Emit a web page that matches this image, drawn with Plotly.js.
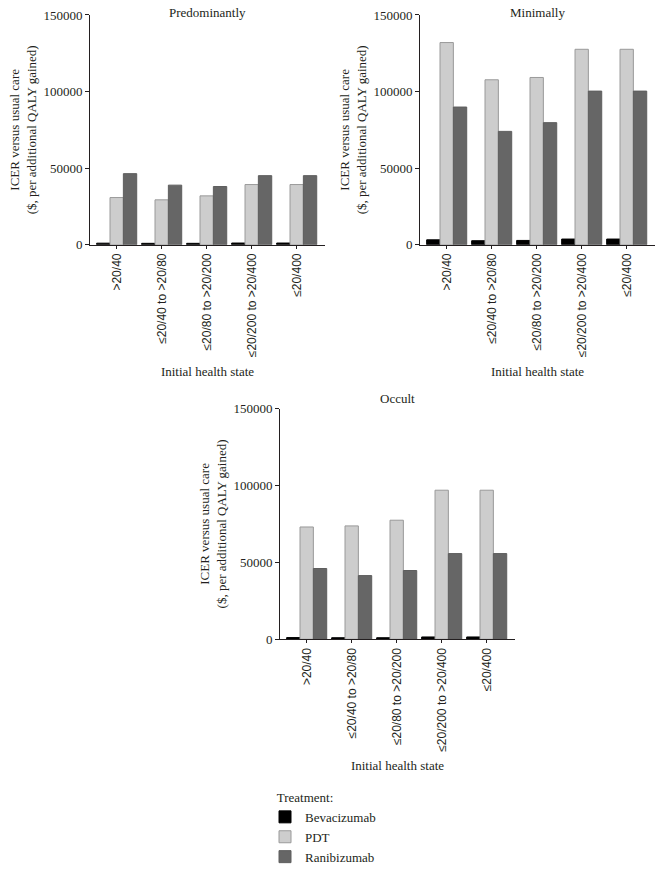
<!DOCTYPE html>
<html>
<head>
<meta charset="utf-8">
<script src="https://cdn.plot.ly/plotly-3.0.1.min.js"></script>
<style>html,body{margin:0;padding:0;background:#fff;}#chart{width:662px;height:872px;}</style>
</head>
<body>
<div id="chart"></div>
<script>
const categories = ['>20/40', '≤20/40 to >20/80', '≤20/80 to >20/200', '≤20/200 to >20/400', '≤20/400'];
const treatments = ['Bevacizumab', 'PDT', 'Ranibizumab'];
const panelTitles = ['Predominantly', 'Minimally', 'Occult'];

const predBev = [1000, 900, 900, 1100, 1100];
const predPDT = [30800, 29300, 31900, 39300, 39300];
const predRan = [46400, 38900, 38000, 45100, 45100];

const minBev = [3200, 2600, 2800, 3700, 3700];
const minPDT = [132000, 107700, 109200, 127600, 127600];
const minRan = [89900, 74000, 79700, 100300, 100300];

const occBev = [1100, 1000, 1000, 1500, 1500];
const occPDT = [73000, 73700, 77400, 96900, 96900];
const occRan = [46000, 41400, 44700, 55700, 55700];

const yTicks = [0, 50000, 100000, 150000];

const fills = ['#000000', '#cdcdcd', '#666666'];
const lines = ['#000000', '#9a9a9a', '#5e5e5e'];
const serif = 'Liberation Serif, Times New Roman, serif';
const sans = 'Liberation Sans, Arial, sans-serif';
const ink = '#231f20';

const panels = [
  {data: [predBev, predPDT, predRan], xa: 'x', ya: 'y'},
  {data: [minBev, minPDT, minRan], xa: 'x2', ya: 'y2'},
  {data: [occBev, occPDT, occRan], xa: 'x3', ya: 'y3'}
];

const traces = [];
panels.forEach((p, pi) => {
  p.data.forEach((vals, ti) => {
    traces.push({
      type: 'bar',
      x: categories,
      y: vals,
      name: treatments[ti],
      legendgroup: treatments[ti],
      showlegend: pi === 0,
      xaxis: p.xa,
      yaxis: p.ya,
      marker: {color: fills[ti], line: {color: lines[ti], width: 1}},
      hoverinfo: 'x+y+name'
    });
  });
});

const W = 662, H = 872;
const px = (a, b) => [a / W, b / W];
const py = (top, bottom) => [1 - bottom / H, 1 - top / H];

function xAxis(domain, anchor) {
  return {
    domain: domain, anchor: anchor,
    type: 'category',
    range: [-0.593, 4.629],
    showline: true, linecolor: ink, linewidth: 1,
    ticks: 'outside', ticklen: 3, tickcolor: ink,
    tickangle: -90,
    tickfont: {family: sans, size: 12, color: ink},
    showgrid: false, zeroline: false,
    title: {text: 'Initial health state', font: {family: serif, size: 13, color: ink}, standoff: 10},
    fixedrange: true
  };
}
function yAxis(domain, anchor) {
  return {
    domain: domain, anchor: anchor,
    range: [0, 150000],
    tickvals: yTicks,
    tickformat: 'd',
    showline: true, linecolor: ink, linewidth: 1,
    ticks: 'outside', ticklen: 4, tickcolor: ink,
    tickfont: {family: serif, size: 13, color: ink},
    showgrid: false, zeroline: false,
    title: {text: 'ICER versus usual care<br>($, per additional QALY gained)', font: {family: serif, size: 13, color: ink}, standoff: 3},
    fixedrange: true
  };
}

const d1x = px(90, 325), d2x = px(420, 655), d3x = px(280, 515);
const dTop = py(15, 245), dBot = py(409, 640);

const layout = {
  width: W, height: H,
  margin: {l: 0, r: 0, t: 0, b: 0},
  paper_bgcolor: '#ffffff', plot_bgcolor: '#ffffff',
  barmode: 'group', bargap: 0.11, bargroupgap: 0,
  font: {family: serif, size: 13, color: ink},
  xaxis: xAxis(d1x, 'y'), yaxis: yAxis(dTop, 'x'),
  xaxis2: xAxis(d2x, 'y2'), yaxis2: yAxis(dTop, 'x2'),
  xaxis3: xAxis(d3x, 'y3'), yaxis3: yAxis(dBot, 'x3'),
  annotations: [
    {text: panelTitles[0], xref: 'paper', yref: 'paper', x: (d1x[0] + d1x[1]) / 2, y: 1 - 13 / H, xanchor: 'center', yanchor: 'middle', showarrow: false, font: {family: serif, size: 13, color: ink}},
    {text: panelTitles[1], xref: 'paper', yref: 'paper', x: (d2x[0] + d2x[1]) / 2, y: 1 - 13 / H, xanchor: 'center', yanchor: 'middle', showarrow: false, font: {family: serif, size: 13, color: ink}},
    {text: panelTitles[2], xref: 'paper', yref: 'paper', x: (d3x[0] + d3x[1]) / 2, y: 1 - 399 / H, xanchor: 'center', yanchor: 'middle', showarrow: false, font: {family: serif, size: 13, color: ink}}
  ],
  legend: {
    x: 265 / W, xanchor: 'left',
    y: 1 - 786 / H, yanchor: 'top',
    orientation: 'v',
    traceorder: 'normal',
    tracegroupgap: 3,
    bgcolor: 'rgba(0,0,0,0)',
    font: {family: serif, size: 13, color: ink},
    title: {text: '&nbsp;&nbsp;&nbsp;Treatment:', font: {family: serif, size: 13, color: ink}}
  },
  showlegend: true
};

Plotly.newPlot('chart', traces, layout, {staticPlot: true, displayModeBar: false});
</script>
</body>
</html>
